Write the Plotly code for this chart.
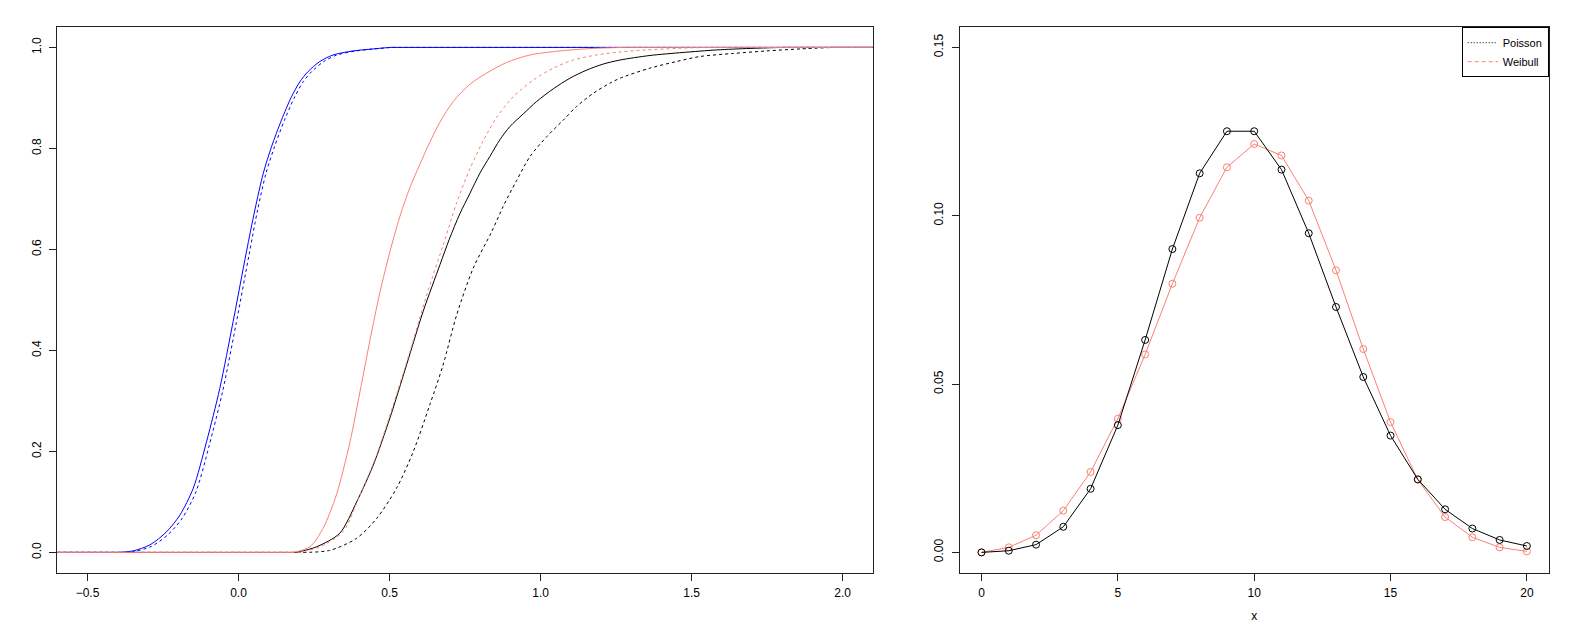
import plotly.graph_objects as go

# ---------------- Left panel: empirical CDF curves ----------------
blue_solid_x = [-0.6, -0.393, -0.349, -0.293, -0.238, -0.194, -0.150, -0.106, -0.062, -0.018,
                0.026, 0.054, 0.082, 0.109, 0.142, 0.175, 0.203, 0.230, 0.269, 0.313,
                0.379, 0.446, 0.50, 2.1]
blue_solid_y = [0, 0, 0.003, 0.015, 0.041, 0.074, 0.127, 0.219, 0.325, 0.457,
                0.595, 0.678, 0.751, 0.803, 0.856, 0.902, 0.932, 0.952, 0.972, 0.985,
                0.993, 0.997, 1.0, 1.0]

blue_dash_x = [-0.6, -0.393, -0.345, -0.288, -0.232, -0.186, -0.141, -0.097, -0.053, -0.009,
               0.035, 0.063, 0.091, 0.119, 0.152, 0.186, 0.214, 0.242, 0.282, 0.326,
               0.39, 0.45, 0.51, 2.1]
blue_dash_y = [0, 0, 0.002, 0.012, 0.036, 0.068, 0.120, 0.212, 0.318, 0.450,
               0.590, 0.678, 0.751, 0.803, 0.856, 0.902, 0.932, 0.952, 0.972, 0.985,
               0.993, 0.997, 1.0, 1.0]

red_solid_x = [-0.6, 0.18, 0.236, 0.280, 0.324, 0.369, 0.402, 0.435, 0.468, 0.501, 0.534,
               0.567, 0.600, 0.633, 0.667, 0.711, 0.766, 0.821, 0.887, 0.965, 1.064,
               1.173, 1.28, 2.1]
red_solid_y = [0, 0, 0.011, 0.048, 0.114, 0.219, 0.318, 0.420, 0.515, 0.595, 0.665,
               0.722, 0.768, 0.812, 0.852, 0.893, 0.927, 0.949, 0.970, 0.985, 0.993,
               0.998, 1.0, 1.0]

black_solid_x = [-0.6, 0.192, 0.258, 0.335, 0.391, 0.446, 0.501, 0.556, 0.611, 0.667,
                 0.697, 0.733, 0.766, 0.799, 0.832, 0.865, 0.898, 0.942, 0.987, 1.042,
                 1.097, 1.152, 1.207, 1.263, 1.362, 1.472, 1.583, 1.693, 1.80, 2.1]
black_solid_y = [0, 0, 0.011, 0.038, 0.100, 0.173, 0.266, 0.371, 0.477, 0.570,
                 0.619, 0.671, 0.711, 0.751, 0.784, 0.817, 0.843, 0.868, 0.893, 0.918,
                 0.939, 0.955, 0.967, 0.975, 0.984, 0.990, 0.995, 0.998, 1.0, 1.0]

red_dash_x = [-0.6, 0.20, 0.269, 0.346, 0.402, 0.457, 0.512, 0.567, 0.623, 0.683, 0.722,
              0.766, 0.810, 0.854, 0.909, 0.975, 1.042, 1.108, 1.185, 1.263, 1.35, 1.45,
              1.55, 2.1]
red_dash_y = [0, 0, 0.011, 0.041, 0.114, 0.193, 0.292, 0.397, 0.510, 0.619, 0.692,
              0.760, 0.815, 0.861, 0.902, 0.935, 0.959, 0.975, 0.985, 0.991, 0.995, 0.998,
              1.0, 1.0]

black_dash_x = [-0.6, 0.214, 0.302, 0.391, 0.457, 0.523, 0.578, 0.633, 0.677, 0.722,
                0.777, 0.838, 0.876, 0.921, 0.965, 1.020, 1.075, 1.119, 1.174, 1.229,
                1.263, 1.362, 1.450, 1.528, 1.638, 1.748, 1.859, 1.97, 2.1]
black_dash_y = [0, 0, 0.004, 0.028, 0.067, 0.127, 0.199, 0.292, 0.371, 0.470,
                0.563, 0.635, 0.685, 0.737, 0.784, 0.823, 0.856, 0.883, 0.909, 0.929,
                0.939, 0.959, 0.972, 0.982, 0.988, 0.993, 0.997, 1.0, 1.0]

left_xticks = [-0.5, 0.0, 0.5, 1.0, 1.5, 2.0]
left_yticks = [0.0, 0.2, 0.4, 0.6, 0.8, 1.0]

# ---------------- Right panel: Poisson vs Weibull ----------------
k_values = list(range(21))
poisson_p = [0.0000, 0.0005, 0.0023, 0.0076, 0.0189, 0.0378, 0.0631, 0.0901, 0.1126, 0.1251,
             0.1251, 0.1137, 0.0948, 0.0729, 0.0521, 0.0347, 0.0217, 0.0128, 0.0071, 0.0037,
             0.0019]
weibull_p = [0.0000, 0.0015, 0.0051, 0.0124, 0.0239, 0.0397, 0.0588, 0.0798, 0.0994, 0.1144,
             0.1213, 0.1179, 0.1045, 0.0838, 0.0604, 0.0387, 0.0216, 0.0105, 0.0045, 0.0015,
             0.0003]
right_xticks = [0, 5, 10, 15, 20]
right_yticks = [0.00, 0.05, 0.10, 0.15]
legend_labels = ["Poisson", "Weibull"]

SALMON = "#FA8072"
FONT = "Liberation Sans, Arial, Helvetica, sans-serif"

fig = go.Figure()

def cdf(x, y, color, dash):
    # flat tails drawn straight, rising part smoothed
    pieces = [(x[:2], y[:2], "linear"), (x[1:-1], y[1:-1], "spline"), (x[-2:], y[-2:], "linear")]
    for px_, py_, shape in pieces:
        line = dict(color=color, width=1, dash=dash, shape=shape)
        if shape == "spline":
            line["smoothing"] = 0.8
        fig.add_trace(go.Scatter(x=px_, y=py_, mode="lines", showlegend=False, hoverinfo="skip",
                                 line=line, xaxis="x", yaxis="y"))

cdf(black_solid_x, black_solid_y, "black", "solid")
cdf(black_dash_x, black_dash_y, "black", "3px,3px")
cdf(blue_solid_x, blue_solid_y, "blue", "solid")
cdf(blue_dash_x, blue_dash_y, "blue", "3px,3px")
cdf(red_solid_x, red_solid_y, SALMON, "solid")
cdf(red_dash_x, red_dash_y, SALMON, "3px,3px")

fig.add_trace(go.Scatter(x=k_values, y=weibull_p, mode="lines+markers", showlegend=False,
                         line=dict(color=SALMON, width=1),
                         marker=dict(symbol="circle-open", size=7, color=SALMON, line=dict(width=1)),
                         xaxis="x2", yaxis="y2"))
fig.add_trace(go.Scatter(x=k_values, y=poisson_p, mode="lines+markers", showlegend=False,
                         line=dict(color="black", width=1),
                         marker=dict(symbol="circle-open", size=7, color="black", line=dict(width=1)),
                         xaxis="x2", yaxis="y2"))

# legend entries (line styles as in the original legend)
fig.add_trace(go.Scatter(x=[None], y=[None], mode="lines", name=legend_labels[0],
                         line=dict(color="black", width=1, dash="1px,2px"),
                         xaxis="x2", yaxis="y2"))
fig.add_trace(go.Scatter(x=[None], y=[None], mode="lines", name=legend_labels[1],
                         line=dict(color=SALMON, width=1, dash="4px,3px"),
                         xaxis="x2", yaxis="y2"))

# the page body has an 8px margin; figure is sized/offset accordingly
OFF = 8
W, H = 1578 - OFF, 631 - OFF

def fx(px):
    return (px - OFF) / W

def fy(py):
    return (H - (py - OFF)) / H

ydom = [fy(572.6), fy(27.2)]
axis_common = dict(showline=True, mirror=True, linecolor="#222", linewidth=1,
                   ticks="outside", ticklen=7, tickcolor="#222", tickwidth=1,
                   showgrid=False, zeroline=False, automargin=False,
                   tickfont=dict(family=FONT, size=12, color="black"))

fig.update_layout(
    width=W, height=H,
    margin=dict(l=0, r=0, t=0, b=0),
    paper_bgcolor="white", plot_bgcolor="white",
    font=dict(family=FONT, size=12, color="black"),
    xaxis=dict(domain=[fx(57.3), fx(872.9)], range=[-0.6, 2.1], tickvals=left_xticks,
               tickformat=".1f", anchor="y", ticklabelstandoff=2, **axis_common),
    yaxis=dict(domain=ydom, range=[-0.04, 1.04], tickvals=left_yticks, tickformat=".1f",
               anchor="x", tickangle=-90, ticklabelstandoff=4, **axis_common),
    xaxis2=dict(domain=[fx(959.7), fx(1548.7)], range=[-0.8, 20.8], tickvals=right_xticks,
                anchor="y2", ticklabelstandoff=2,
                title=dict(text="x", font=dict(family=FONT, size=12), standoff=12),
                **axis_common),
    yaxis2=dict(domain=ydom, range=[-0.006, 0.156], tickvals=right_yticks, tickformat=".2f",
                anchor="x2", tickangle=-90, ticklabelstandoff=4, **axis_common),
    showlegend=True,
    legend=dict(x=fx(1548.7), xanchor="right", y=ydom[1], yanchor="top",
                bgcolor="white", bordercolor="black", borderwidth=1,
                font=dict(family=FONT, size=11, color="black"),
                tracegroupgap=0, itemwidth=30),
)

fig.write_html("out.html")
